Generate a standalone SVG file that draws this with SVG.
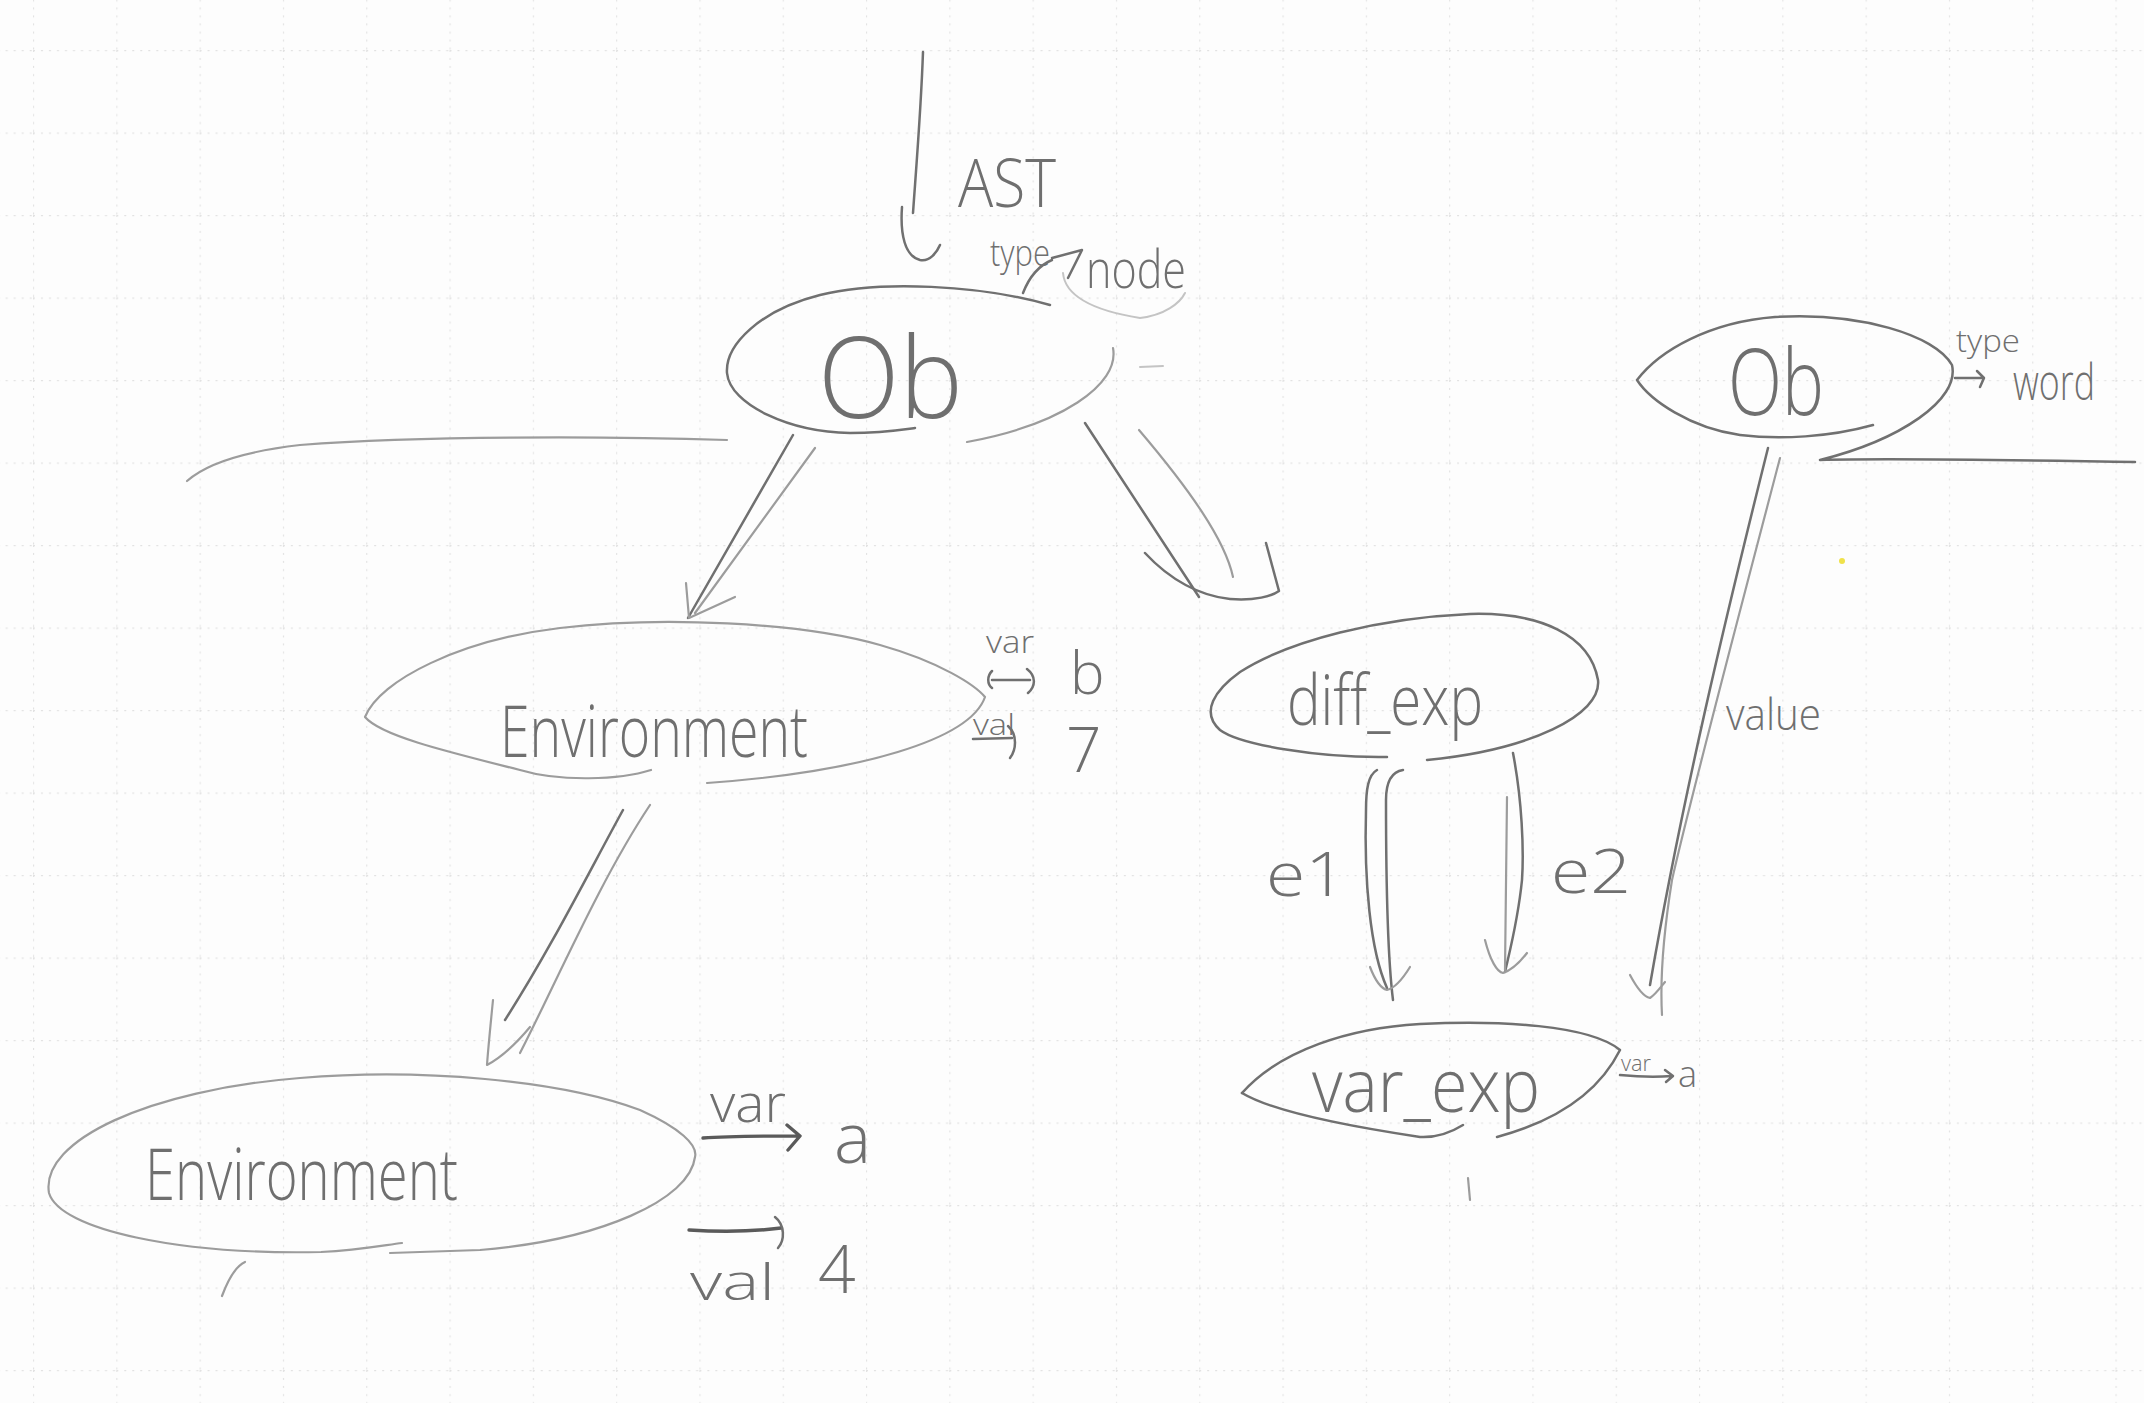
<svg xmlns="http://www.w3.org/2000/svg" width="2144" height="1403" viewBox="0 0 2144 1403">
  <defs>
    <pattern id="grid" x="33" y="50" width="83.3" height="82.5" patternUnits="userSpaceOnUse">
      <path d="M0 0.5H83.3M0.5 0V82.5" fill="none" stroke="#e2e2e2" stroke-width="1.3" stroke-dasharray="2 6"/>
    </pattern>
    <style>
      .pen{fill:none;stroke:#707070;stroke-width:2.5;stroke-linecap:round;stroke-linejoin:round}
      .soft{fill:none;stroke:#9c9c9c;stroke-width:2.2;stroke-linecap:round;stroke-linejoin:round}
      .faint{fill:none;stroke:#c4c4c4;stroke-width:2;stroke-linecap:round}
      .dark{fill:none;stroke:#5a5a5a;stroke-width:3.4;stroke-linecap:round;stroke-linejoin:round}
      text{font-family:"Open Sans","Liberation Sans",sans-serif;font-weight:300;fill:#6f6f6f}
    </style>
  </defs>

  <!-- paper -->
  <rect width="2144" height="1403" fill="#fdfdfd"/>
  <rect width="2144" height="1403" fill="url(#grid)"/>

  <!-- loose strokes on the page -->
  <g id="marks">
    <path class="soft" d="M187,481 C205,465 240,452 300,445 C420,436 600,436 727,440"/>
    <path class="faint" d="M1140,367 L1163,366"/>
    <path class="soft" d="M245,1262 C236,1266 228,1280 222,1296"/>
    <path class="soft" d="M1468,1178 L1470,1200"/>
    <circle cx="1842" cy="561" r="3" fill="#f0e24a"/>
  </g>

  <!-- connectors -->
  <g id="connectors">
    <!-- AST entry -->
    <path class="pen" d="M923,52 C921,110 916,170 913,213"/>
    <path class="pen" d="M902,207 C900,235 905,256 920,260 C930,262 937,252 940,245"/>
    <!-- env -->
    <path class="pen" d="M793,435 L688,618"/>
    <path class="soft" d="M815,448 L695,613"/>
    <path class="soft" d="M686,583 L689,618 L735,597"/>
    <!-- exp -->
    <path class="pen" d="M1085,423 L1199,597"/>
    <path class="soft" d="M1139,430 C1190,490 1225,540 1233,577"/>
    <path class="pen" d="M1145,553 C1170,580 1200,596 1230,599 C1255,601 1272,596 1279,591 L1266,543"/>
    <!-- Env -->
    <path class="pen" d="M623,810 C590,870 550,950 505,1020"/>
    <path class="soft" d="M650,805 C600,880 555,985 520,1053"/>
    <path class="soft" d="M493,1000 C490,1030 488,1050 487,1065 C500,1058 515,1045 530,1027"/>
    <!-- e1 -->
    <path class="pen" d="M1377,770 C1368,775 1366,790 1366,810 C1364,880 1370,950 1387,988"/>
    <path class="pen" d="M1403,770 C1390,772 1386,785 1386,800 C1386,880 1388,960 1393,1000"/>
    <path class="soft" d="M1370,967 C1375,980 1380,988 1387,990 C1395,988 1402,980 1410,967"/>
    <!-- e2 -->
    <path class="pen" d="M1513,753 C1522,800 1524,850 1522,880 C1518,920 1510,950 1505,972"/>
    <path class="soft" d="M1507,797 L1505,970"/>
    <path class="soft" d="M1485,940 C1490,960 1497,972 1503,973 C1512,970 1520,962 1527,953"/>
    <!-- value -->
    <path class="pen" d="M1768,448 C1725,620 1682,800 1650,985"/>
    <path class="soft" d="M1780,458 C1735,630 1690,800 1672,880 C1664,930 1660,980 1662,1015"/>
    <path class="soft" d="M1630,975 C1638,990 1645,997 1650,998 C1655,995 1660,988 1665,982"/>
  </g>

  <!-- top object -->
  <g id="node-ob-main">
    <path class="pen" d="M1050,305 C980,285 880,280 820,295 C760,310 725,345 727,373 C730,405 790,432 850,433 C880,433 900,430 915,428"/>
    <path class="soft" d="M1113,348 C1120,385 1060,425 967,442"/>
    <text x="818" y="418" font-size="112" textLength="145" lengthAdjust="spacingAndGlyphs">Ob</text>
    <text x="958" y="207" font-size="66" textLength="98" lengthAdjust="spacingAndGlyphs">AST</text>
    <text x="990" y="266" font-size="36" textLength="60" lengthAdjust="spacingAndGlyphs">type</text>
    <path class="pen" d="M1023,293 C1030,275 1040,265 1052,260"/>
    <path class="pen" d="M1052,258 L1082,250 L1068,278"/>
    <text x="1086" y="288" font-size="54" textLength="100" lengthAdjust="spacingAndGlyphs">node</text>
    <path class="faint" d="M1063,273 C1065,295 1090,310 1140,318 C1165,315 1180,303 1185,293"/>
  </g>

  <!-- right object -->
  <g id="node-ob-side">
    <path class="pen" d="M1873,425 C1830,437 1780,440 1740,435 C1690,428 1650,400 1637,380 C1660,350 1710,322 1775,317 C1860,312 1935,335 1952,365 C1960,400 1900,440 1820,460 C1900,458 2000,460 2135,462"/>
    <text x="1728" y="415" font-size="92" textLength="96" lengthAdjust="spacingAndGlyphs">Ob</text>
    <text x="1956" y="352" font-size="32" textLength="64" lengthAdjust="spacingAndGlyphs">type</text>
    <path class="pen" d="M1955,378 L1983,378 M1977,371 L1984,378 L1980,387"/>
    <text x="2013" y="400" font-size="50" textLength="82" lengthAdjust="spacingAndGlyphs">word</text>
  </g>

  <!-- first environment -->
  <g id="node-env-1">
    <path class="soft" d="M651,770 C620,780 560,782 520,770 C440,750 380,735 365,717 C380,680 460,640 560,628 C660,616 800,622 880,645 C940,662 975,685 985,697 C970,740 860,772 707,783"/>
    <text x="500" y="757" font-size="72" textLength="308" lengthAdjust="spacingAndGlyphs">Environment</text>
    <text x="986" y="653" font-size="32" textLength="48" lengthAdjust="spacingAndGlyphs">var</text>
    <path class="pen" d="M992,671 C987,676 987,684 992,688 M992,680 L1030,680 M1027,669 C1036,676 1036,686 1028,693"/>
    <text x="1070" y="694" font-size="58">b</text>
    <text x="973" y="735" font-size="30" textLength="42" lengthAdjust="spacingAndGlyphs">val</text>
    <path class="pen" d="M973,739 L1012,738 M1008,726 C1018,735 1016,750 1010,758"/>
    <text x="1066" y="772" font-size="62">7</text>
  </g>

  <!-- second environment -->
  <g id="node-env-2">
    <path class="soft" d="M402,1243 C385,1245 360,1250 321,1252 C180,1255 60,1230 49,1193 C40,1140 150,1090 300,1078 C420,1068 560,1080 640,1110 C680,1128 698,1145 695,1157 C690,1200 600,1240 480,1250 L390,1253"/>
    <text x="145" y="1200" font-size="72" textLength="313" lengthAdjust="spacingAndGlyphs">Environment</text>
    <text x="710" y="1122" font-size="54" textLength="76" lengthAdjust="spacingAndGlyphs">var</text>
    <path class="dark" d="M703,1138 C730,1136 770,1136 798,1136 M787,1125 L800,1136 L788,1150"/>
    <text x="834" y="1163" font-size="70">a</text>
    <path class="dark" d="M689,1230 C720,1232 750,1232 781,1228"/>
    <path class="pen" d="M775,1217 C785,1225 785,1240 778,1248"/>
    <text x="690" y="1300" font-size="50" textLength="85" lengthAdjust="spacingAndGlyphs">val</text>
    <text x="818" y="1293" font-size="66">4</text>
  </g>

  <!-- difference expression -->
  <g id="node-diff-exp">
    <path class="pen" d="M1387,757 C1320,758 1240,745 1220,730 C1200,712 1215,690 1240,672 C1290,640 1380,618 1470,614 C1540,612 1590,635 1598,680 C1602,715 1530,750 1427,760"/>
    <text x="1287" y="725" font-size="70" textLength="196" lengthAdjust="spacingAndGlyphs">diff_exp</text>
    <text x="1266" y="896" font-size="60" textLength="80" lengthAdjust="spacingAndGlyphs">e1</text>
    <text x="1551" y="893" font-size="60" textLength="80" lengthAdjust="spacingAndGlyphs">e2</text>
    <text x="1726" y="730" font-size="44" textLength="95" lengthAdjust="spacingAndGlyphs">value</text>
  </g>

  <!-- variable expression -->
  <g id="node-var-exp">
    <path class="pen" d="M1242,1093 C1280,1050 1350,1028 1420,1024 C1500,1020 1590,1025 1620,1050 C1600,1090 1560,1120 1497,1137"/>
    <path class="pen" d="M1242,1093 C1270,1110 1340,1125 1420,1137 C1440,1138 1455,1130 1463,1125"/>
    <text x="1312" y="1112" font-size="74" textLength="228" lengthAdjust="spacingAndGlyphs">var_exp</text>
    <text x="1621" y="1071" font-size="22" textLength="30" lengthAdjust="spacingAndGlyphs">var</text>
    <path class="pen" d="M1620,1075 C1640,1077 1660,1077 1672,1076 M1665,1070 L1673,1076 L1666,1082"/>
    <text x="1678" y="1087" font-size="36">a</text>
  </g>
</svg>
